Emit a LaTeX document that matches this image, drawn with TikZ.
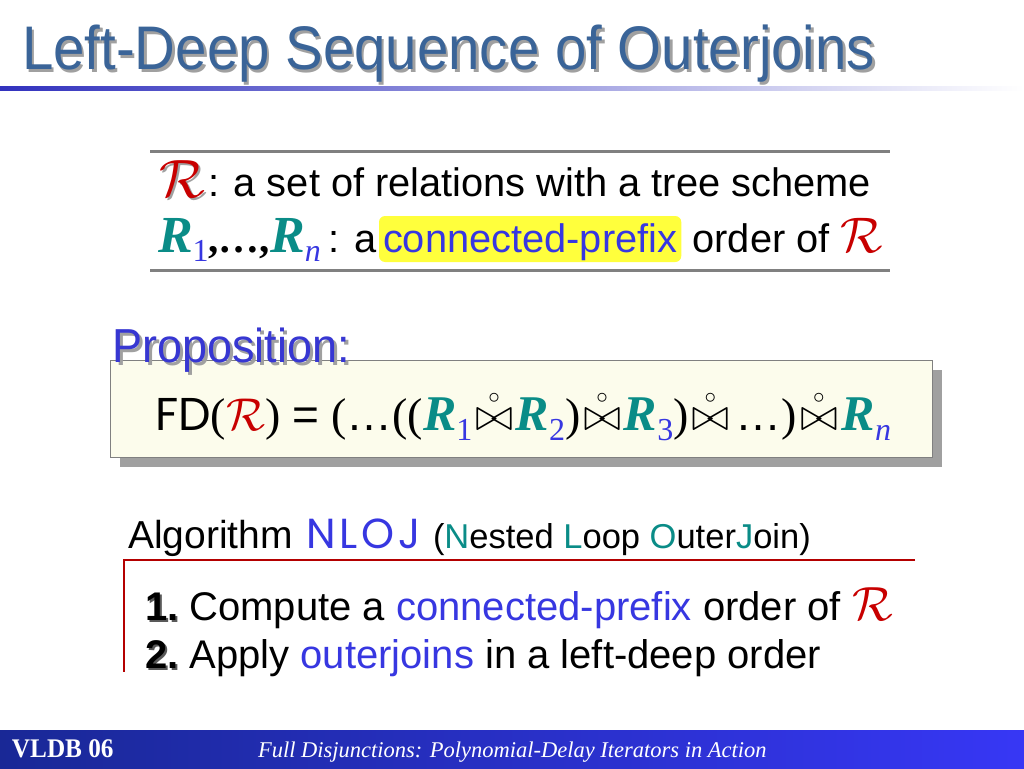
\RequirePackage{fix-cm}
\documentclass[tikz,border=0pt]{standalone}
\usepackage{fontspec}
\usepackage{amsmath}
\setmainfont{Liberation Sans}
\newfontfamily\tnr{Liberation Serif}
\newfontfamily\geo{Poppins}
\usetikzlibrary{shadows}
\definecolor{titlec}{RGB}{58,100,152}
\definecolor{shadowc}{RGB}{160,160,160}
\definecolor{rulec}{RGB}{50,50,190}
\definecolor{rred}{RGB}{200,0,0}
\definecolor{rteal}{RGB}{10,140,135}
\definecolor{tblue}{RGB}{55,55,225}
\definecolor{propc}{RGB}{55,55,210}
\definecolor{hly}{RGB}{255,255,60}
\definecolor{ivory}{RGB}{252,252,236}
\definecolor{footl}{RGB}{25,40,150}
\definecolor{footr}{RGB}{55,55,245}
\newcommand{\fs}[1]{\fontsize{#1}{#1}\selectfont}
\newcommand{\scR}{\textcolor{rred}{$\mathcal{R}$}}
\newcommand{\Rb}[4]{{\fs{#1}\tnr\bfseries\itshape\textcolor{rteal}{R}}\raisebox{-#3pt}{\fs{#2}\tnr\textcolor{tblue}{#4}}}
\newcommand{\oj}{\hspace{3pt}\ensuremath{\mathrel{\overset{\scriptscriptstyle\circ}{\bowtie}}}\hspace{3pt}}
\begin{document}
\begin{tikzpicture}[x=1pt,y=-1pt,
  txt/.style={anchor=base west, inner sep=0pt, outer sep=0pt},
  shd/.style={txt, text=shadowc},
  boxline/.style={line width=3pt, draw=gray},
  redline/.style={line width=2.5pt, draw=rred!90!black}]
\useasboundingbox (0,0) rectangle (1024,768);
\fill[white] (0,0) rectangle (1024,768);
% title
\node[shd] (titlesh) at (24.5,72.5) {\fs{57}\scalebox{0.99}[1.08]{Left-Deep Sequence of Outerjoins}};
\node[txt, text=titlec] (title) at (22,70) {\fs{57}\scalebox{0.99}[1.08]{Left-Deep Sequence of Outerjoins}};
\shade[left color=rulec, right color=white] (0,86) rectangle (1024,90);
% top box
\coordinate (ta) at (150,151); \coordinate (tb) at (890,151);
\coordinate (ba) at (150,270); \coordinate (bb) at (890,270);
\draw[boxline] (ta) -- (tb);
\draw[boxline] (ba) -- (bb);
\node[shd] (r1sh) at (161,199) {\fs{54}\textcolor{shadowc}{$\mathcal{R}$}};
\node[txt] (r1) at (159,197) {\fs{54}\scR};
\node[txt] (l1) at (208,196) {\fs{39.8}: a set of relations with a tree scheme};
\node[txt] (l2a) at (158,252) {\Rb{52}{32}{9}{1}{\fs{41}\tnr\bfseries ,\dots,}\Rb{52}{32}{9}{\itshape n}{\fs{39.8}\hspace{8pt}: a}};
\node[anchor=base west, fill=hly, rounded corners=6pt, inner xsep=4pt, inner ysep=3pt,
      text height=33pt, text depth=7pt, text=tblue, xshift=2pt] (hl) at (l2a.base east) {\fs{39.8}connected-prefix};
\node[txt] (l2c) at (hl.base east) {\fs{39.8}\ order of \fs{50}\scR};
% proposition box
\node[anchor=north west, draw=gray, fill=ivory, minimum width=822pt, minimum height=97pt,
      drop shadow={shadow xshift=10pt, shadow yshift=-10pt, fill=shadowc, opacity=1}] (pbox) at (110,360) {};
\node[shd] (propsh) at (115,365) {\fs{45}\scalebox{1}[1.06]{Proposition:}};
\node[txt, text=propc] (prop) at (112,362) {\fs{45}\scalebox{1}[1.06]{Proposition:}};
\node[txt] (fd) at (155,430) {\fs{46}{\geo FD}{\tnr(}\scR{\tnr)}\hspace{12pt}=\hspace{12pt}{\tnr(}\dots{\tnr((}\Rb{50}{32}{10}{1}\oj\Rb{50}{32}{10}{2}{\tnr)}\oj\Rb{50}{32}{10}{3}{\tnr)}\oj\hspace{4pt}\dots{\tnr)}\oj\hspace{1pt}\Rb{50}{32}{10}{\itshape n}};
% algorithm
\node[txt] (alg) at (128,548) {\fs{39}Algorithm\hspace{14pt}{\geo\fs{42}\addfontfeature{LetterSpace=9}\textcolor{tblue}{NLOJ}}\hspace{12pt}\fs{34.5}(\textcolor{rteal}{N}ested \textcolor{rteal}{L}oop \textcolor{rteal}{O}uter\textcolor{rteal}{J}oin)};
\coordinate (rla) at (915,560); \coordinate (rlb) at (124,560); \coordinate (rlc) at (124,672);
\draw[redline] (rla) -- (rlb) -- (rlc);
\node[shd, text=gray!70!black] (n1sh) at (147,622) {\fs{40}\bfseries 1.};
\node[txt] (n1) at (145,620) {\fs{40}\bfseries 1.};
\node[txt] (i1) at (n1.base east) {\fs{40}\ Compute a \textcolor{tblue}{connected-prefix} order of \fs{48}\scR};
\node[shd, text=gray!70!black] (n2sh) at (147,670) {\fs{40}\bfseries 2.};
\node[txt] (n2) at (145,668) {\fs{40}\bfseries 2.};
\node[txt] (i2) at (n2.base east) {\fs{40}\ Apply \textcolor{tblue}{outerjoins} in a left-deep order};
% footer
\shade[left color=footl, right color=footr] (0,730) rectangle (1024,768);
\node[txt, text=white] (vldb) at (12,757) {\fs{24}\tnr\bfseries\scalebox{1.05}[1.12]{VLDB 06}};
\node[txt, text=white] (foot) at (258,757) {\fs{22.5}\tnr\itshape Full Disjunctions: Polynomial-Delay Iterators in Action};
\end{tikzpicture}
\end{document}
